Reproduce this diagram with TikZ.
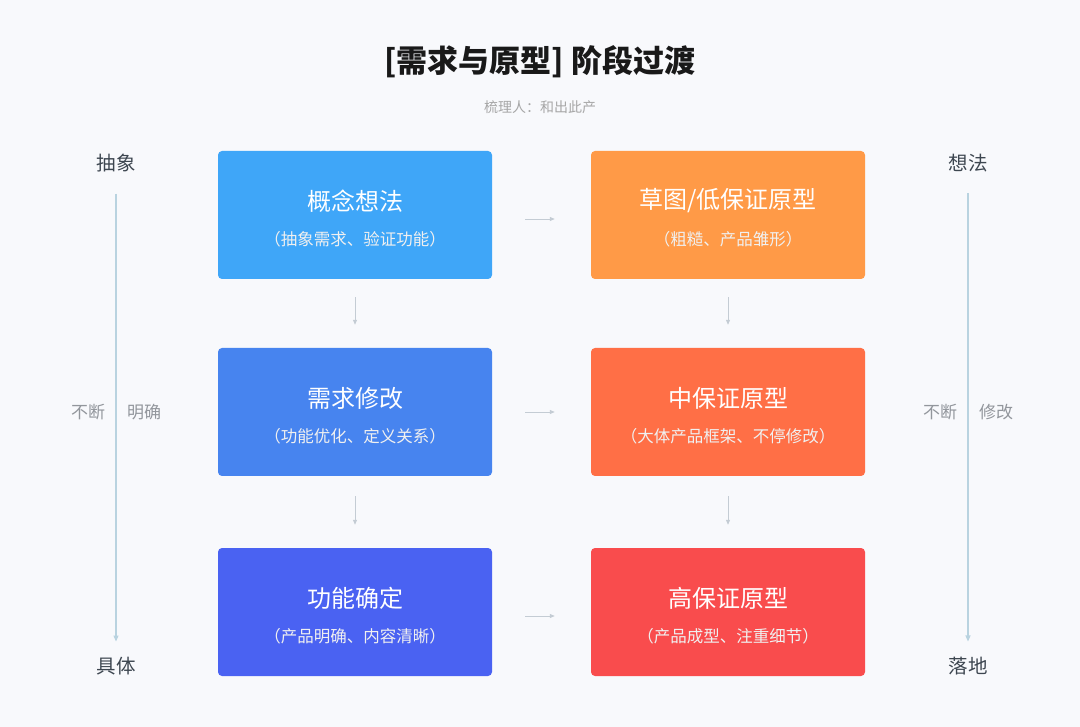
\documentclass[tikz,border=0pt]{standalone}
\usepackage{fontspec}
\setmainfont{Noto Sans CJK SC}
\usetikzlibrary{arrows.meta,positioning,calc}

\definecolor{bgcol}{HTML}{F8F9FC}
\definecolor{blueA}{HTML}{3FA6F8}
\definecolor{blueB}{HTML}{4784EF}
\definecolor{blueC}{HTML}{4A62F2}
\definecolor{orangeA}{HTML}{FF9A47}
\definecolor{orangeB}{HTML}{FF6F46}
\definecolor{orangeC}{HTML}{F94C4D}
\definecolor{axiscol}{HTML}{B9D3E0}
\definecolor{stepcol}{HTML}{C4CCD4}
\definecolor{labelcol}{HTML}{3D4650}
\definecolor{softcol}{HTML}{92969C}

\begin{document}
\begin{tikzpicture}[x=1pt,y=-1pt,
  stage/.style={rounded corners=4pt, minimum width=274pt, minimum height=128pt,
    inner sep=0pt, text=white, align=center},
  stagetitle/.style={font=\fontsize{24}{28}\selectfont},
  stagesub/.style={font=\fontsize{16.5}{19}\selectfont, text=white!88!gray},
  flow/.style={draw=stepcol, line width=0.8pt, -{Triangle[length=5pt,width=4pt]}},
  axis/.style={draw=axiscol, line width=1.2pt, -{Triangle[length=6pt,width=5pt]}},
  axislabel/.style={font=\fontsize{19.5}{22}\selectfont, text=labelcol},
  axisnote/.style={font=\fontsize{17}{19}\selectfont, text=softcol}]
  \fill[bgcol] (0,0) rectangle (1080,727);
  \useasboundingbox (0,0) rectangle (1080,727);
  \def \lx {355}
  \def \rx {728}

  % title
  \node[font=\fontsize{31}{35}\selectfont\bfseries, text=black!90] (title) at (540,62)
    {[需求与原型] 阶段过渡};
  \node[font=\fontsize{14}{16}\selectfont, text=black!35] (author) at (540,107)
    {梳理人：和出此产};

  % stage boxes
  \node[stage, fill=blueA] (idea) at (\lx,215) {};
  \node[stage, fill=blueB] (change) at (\lx,412) {};
  \node[stage, fill=blueC] (fixed) at (\lx,612) {};
  \node[stage, fill=orangeA] (sketch) at (\rx,215) {};
  \node[stage, fill=orangeB] (midproto) at (\rx,412) {};
  \node[stage, fill=orangeC] (hiproto) at (\rx,612) {};

  \node[stagetitle, text=white] at ($(idea)+(0,-14)$) {概念想法};
  \node[stagesub] at ($(idea)+(0,24)$) {（抽象需求、验证功能）};
  \node[stagetitle, text=white] at ($(change)+(0,-14)$) {需求修改};
  \node[stagesub] at ($(change)+(0,24)$) {（功能优化、定义关系）};
  \node[stagetitle, text=white] at ($(fixed)+(0,-14)$) {功能确定};
  \node[stagesub] at ($(fixed)+(0,24)$) {（产品明确、内容清晰）};
  \node[stagetitle, text=white] at ($(sketch)+(0,-14)$) {草图/低保证原型};
  \node[stagesub] at ($(sketch)+(0,24)$) {（粗糙、产品雏形）};
  \node[stagetitle, text=white] at ($(midproto)+(0,-14)$) {中保证原型};
  \node[stagesub] at ($(midproto)+(0,24)$) {（大体产品框架、不停修改）};
  \node[stagetitle, text=white] at ($(hiproto)+(0,-14)$) {高保证原型};
  \node[stagesub] at ($(hiproto)+(0,24)$) {（产品成型、注重细节）};

  % small arrows between the boxes
  \draw[flow] ([xshift=33pt,yshift=-4pt]idea.east) -- ([xshift=-36pt,yshift=-4pt]sketch.west);
  \draw[flow] ([xshift=33pt]change.east) -- ([xshift=-36pt]midproto.west);
  \draw[flow] ([xshift=33pt,yshift=-4pt]fixed.east) -- ([xshift=-36pt,yshift=-4pt]hiproto.west);
  \draw[flow] ([yshift=-18pt]idea.south) -- ([yshift=23pt]change.north);
  \draw[flow] ([yshift=-20pt]change.south) -- ([yshift=23pt]fixed.north);
  \draw[flow] ([yshift=-18pt]sketch.south) -- ([yshift=23pt]midproto.north);
  \draw[flow] ([yshift=-20pt]midproto.south) -- ([yshift=23pt]hiproto.north);

  % side axes
  \node[axislabel] (abstract) at (116,163) {抽象};
  \node[axislabel] (concrete) at (116,666) {具体};
  \draw[axis] ([yshift=-18pt]abstract.south) -- ([yshift=12pt]concrete.north);
  \node[axisnote] at (88,412) {不断};
  \node[axisnote] at (144,412) {明确};

  \node[axislabel] (thought) at (968,163) {想法};
  \node[axislabel] (ground) at (968,666) {落地};
  \draw[axis] ([yshift=-18pt]thought.south) -- ([yshift=12pt]ground.north);
  \node[axisnote] at (940,412) {不断};
  \node[axisnote] at (996,412) {修改};
\end{tikzpicture}
\end{document}
